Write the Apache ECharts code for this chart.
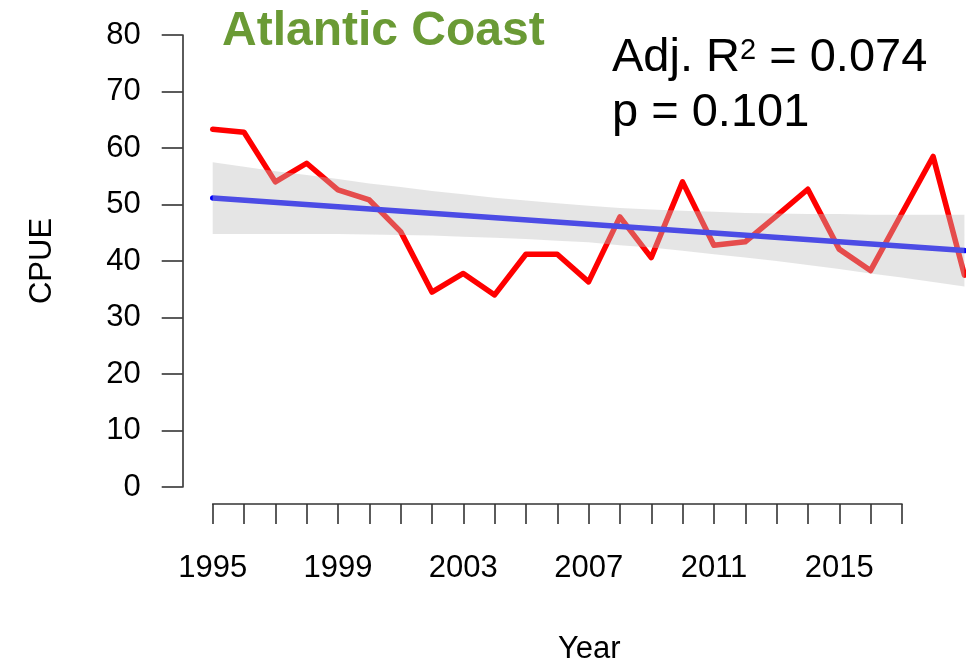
<!DOCTYPE html>
<html>
<head>
<meta charset="utf-8">
<title>Atlantic Coast CPUE</title>
<script src="https://cdn.jsdelivr.net/npm/echarts@6/dist/echarts.min.js"></script>
<style>
  html, body { margin: 0; padding: 0; background: #ffffff; }
  #chart { width: 966px; height: 663px; }
</style>
</head>
<body>
<div id="chart"></div>
<script>
// Survey years and annual catch per unit effort
const years = [1995, 1996, 1997, 1998, 1999, 2000, 2001, 2002, 2003, 2004, 2005, 2006, 2007,
               2008, 2009, 2010, 2011, 2012, 2013, 2014, 2015, 2016, 2017, 2018, 2019];
const cpue = [63.3, 62.8, 54.0, 57.3, 52.6, 50.8, 45.2, 34.5, 37.8, 34.0, 41.2, 41.2, 36.3,
              47.8, 40.6, 54.0, 42.8, 43.4, 48.0, 52.7, 42.1, 38.3, 48.4, 58.5, 37.5];

// Linear trend (start and end of the fitted line)
const trendYears = [1995, 2019];
const trendValues = [51.15, 41.85];

// 95% confidence band around the trend, per year
const bandLower = [44.8, 44.8, 44.8, 44.8, 44.8, 44.7, 44.6, 44.5, 44.3, 44.1, 43.9, 43.6, 43.3,
                   42.8, 42.4, 41.8, 41.2, 40.6, 40.0, 39.3, 38.6, 37.8, 37.1, 36.3, 35.5];
const bandUpper = [57.5, 56.7, 55.9, 55.2, 54.5, 53.7, 53.1, 52.4, 51.8, 51.2, 50.7, 50.2, 49.8,
                   49.4, 49.1, 48.9, 48.7, 48.5, 48.4, 48.3, 48.3, 48.2, 48.2, 48.2, 48.2];

// Axis ticks
const yTicks = [0, 10, 20, 30, 40, 50, 60, 70, 80];
const xTickStart = 1995, xTickEnd = 2017, xLabelStep = 4;

const titleText = 'Atlantic Coast';
const statsR2 = '0.074';
const statsP = '0.101';

const FONT = '"Liberation Sans", Arial, sans-serif';
const INK = '#000000';
const AXIS_INK = '#333333';

const chart = echarts.init(document.getElementById('chart'), null, { renderer: 'canvas' });

const linePts = years.map((y, i) => [y, cpue[i]]);
const trendPts = trendYears.map((y, i) => [y, trendValues[i]]);
const bandPts = years.map((y, i) => [y, bandLower[i], bandUpper[i]]);

// Confidence band drawn as one translucent polygon over the lines:
// upper edge forward, lower edge back
function renderBand(params, api) {
  if (params.dataIndexInside !== 0) return null;
  const upper = [], lower = [];
  for (let i = 0; i < bandPts.length; i++) {
    upper.push(api.coord([bandPts[i][0], bandPts[i][2]]));
    lower.push(api.coord([bandPts[i][0], bandPts[i][1]]));
  }
  return {
    type: 'polygon',
    shape: { points: upper.concat(lower.reverse()) },
    style: { fill: 'rgba(190,190,190,0.4)', stroke: null }
  };
}

chart.setOption({
  animation: false,
  backgroundColor: '#ffffff',
  grid: [
    // plotting area for the data
    { left: 212.7, right: 0, top: 35, height: 452, containLabel: false, outerBoundsMode: 'none' },
    // area that carries the year axis (ticks end at the last labelled span)
    { left: 212.7, width: 689.3, top: 35, height: 452, containLabel: false, outerBoundsMode: 'none' }
  ],
  xAxis: [
    {
      type: 'value', gridIndex: 0, min: 1995, max: 2019.05,
      axisLine: { show: false }, axisTick: { show: false },
      axisLabel: { show: false }, splitLine: { show: false },
      name: 'Year', nameLocation: 'middle', nameGap: 147,
      nameTextStyle: { fontFamily: FONT, fontSize: 31, color: INK }
    },
    {
      type: 'value', gridIndex: 1, min: xTickStart, max: xTickEnd, interval: 1,
      offset: 17,
      axisLine: { show: true, onZero: false, lineStyle: { color: AXIS_INK, width: 1.6 } },
      axisTick: { show: true, length: 20, lineStyle: { color: AXIS_INK, width: 1.6 } },
      axisLabel: {
        show: true, margin: 49, fontFamily: FONT, fontSize: 31, color: INK,
        formatter: v => ((v - xTickStart) % xLabelStep === 0 ? String(v) : '')
      },
      splitLine: { show: false }
    }
  ],
  yAxis: [
    {
      type: 'value', gridIndex: 0, min: yTicks[0], max: yTicks[yTicks.length - 1], interval: 10,
      offset: 30,
      axisLine: { show: true, onZero: false, lineStyle: { color: AXIS_INK, width: 1.6 } },
      axisTick: { show: true, length: 21, lineStyle: { color: AXIS_INK, width: 1.6 } },
      axisLabel: { show: true, margin: 42, fontFamily: FONT, fontSize: 31, color: INK },
      splitLine: { show: false },
      name: 'CPUE', nameLocation: 'middle', nameGap: 125, nameRotate: 90,
      nameTextStyle: { fontFamily: FONT, fontSize: 31, color: INK }
    },
    {
      type: 'value', gridIndex: 1, min: 0, max: 80, show: false
    }
  ],
  graphic: [
    {
      type: 'text', left: 222, top: 8,
      style: { text: titleText, font: 'bold 48px ' + FONT, fill: '#6a9a35' }
    },
    {
      type: 'text', left: 612, top: 30,
      style: {
        text: '{a|Adj. R}{s|2}{a| = ' + statsR2 + '}',
        rich: {
          a: { fontFamily: FONT, fontSize: 47, fill: INK, color: INK, lineHeight: 56 },
          s: { fontFamily: FONT, fontSize: 29, fill: INK, color: INK, lineHeight: 56, verticalAlign: 'top', padding: [6, 0, 0, 0] }
        }
      }
    },
    {
      type: 'text', left: 612, top: 90,
      style: { text: 'p = ' + statsP, font: '47px ' + FONT, fill: INK }
    }
  ],
  series: [
    {
      name: 'CPUE', type: 'line', xAxisIndex: 0, yAxisIndex: 0, z: 2,
      data: linePts, symbol: 'none',
      lineStyle: { color: '#ff0000', width: 5.5, cap: 'round', join: 'round' }
    },
    {
      name: 'Trend', type: 'line', xAxisIndex: 0, yAxisIndex: 0, z: 3,
      data: trendPts, symbol: 'none',
      lineStyle: { color: '#0000ff', width: 5.5, cap: 'round' }
    },
    {
      name: 'Band', type: 'custom', xAxisIndex: 0, yAxisIndex: 0, z: 5,
      data: bandPts, renderItem: renderBand,
      encode: { x: 0, y: [1, 2] }
    }
  ]
});
</script>
</body>
</html>
